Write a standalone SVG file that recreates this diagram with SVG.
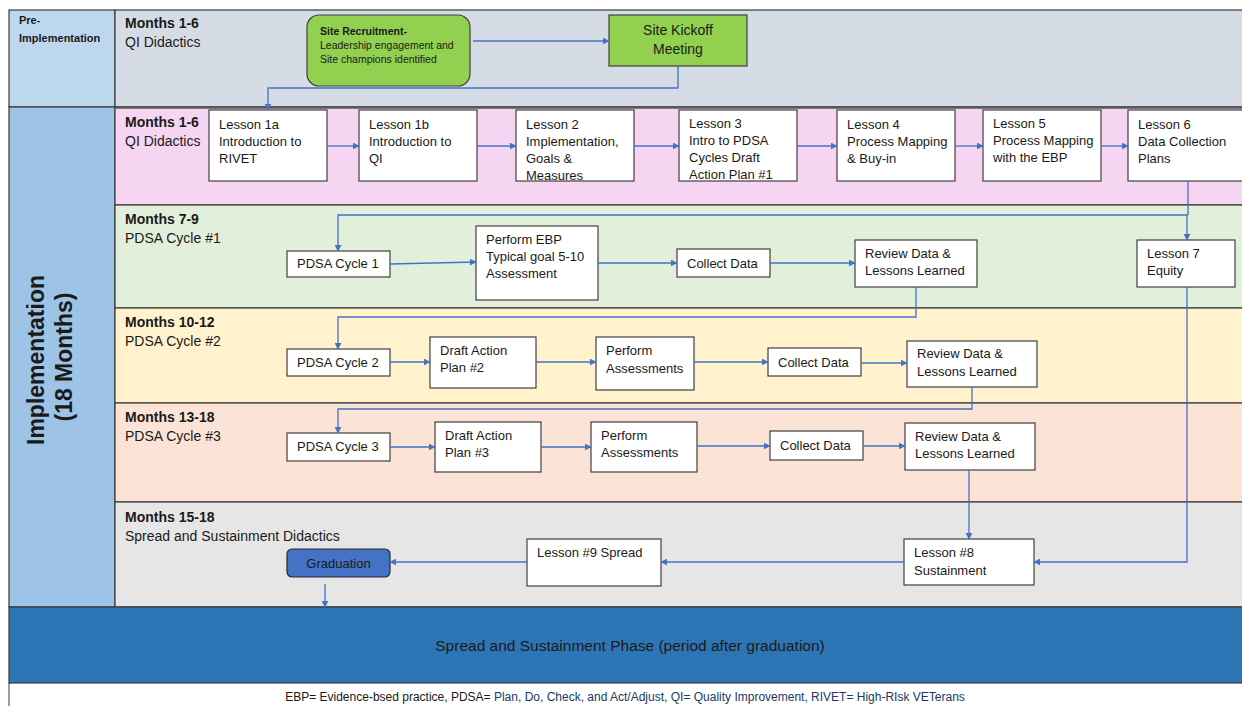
<svg xmlns="http://www.w3.org/2000/svg" width="1242" height="706" viewBox="0 0 1242 706">
<defs>
<marker id="ah" viewBox="0 0 10 10" refX="9" refY="5" markerWidth="7" markerHeight="7" markerUnits="userSpaceOnUse" orient="auto">
<path d="M0,0 L10,5 L0,10 z" fill="#4472C4"/>
</marker>
<style>
text{font-family:"Liberation Sans",Arial,sans-serif;fill:#1a1a1a;}
.t{font-size:13px;}
.lbl{font-size:14px;}
.b{font-weight:bold;}
.box{fill:#ffffff;stroke:#404040;stroke-width:1.2;}
.band{stroke:#3a3a3a;stroke-width:1.2;}
.con{fill:none;stroke:#4472C4;stroke-width:1.3;marker-end:url(#ah);}
.conn{fill:none;stroke:#4472C4;stroke-width:1.3;}
</style>
</defs>
<rect width="1242" height="706" fill="#ffffff"/>
<g id="bands">
<rect class="band" x="9" y="10" width="106" height="97" fill="#BDD7EE"/>
<rect class="band" x="115" y="10" width="1130" height="97" fill="#D6DCE5"/>
<rect class="band" x="9" y="107" width="106" height="500" fill="#9DC3E6"/>
<rect class="band" x="115" y="107" width="1130" height="98" fill="#F6D5F3"/>
<rect class="band" x="115" y="205" width="1130" height="103" fill="#E2EFDA"/>
<rect class="band" x="115" y="308" width="1130" height="95" fill="#FFF2CC"/>
<rect class="band" x="115" y="403" width="1130" height="99" fill="#FBE4D5"/>
<rect class="band" x="115" y="502" width="1130" height="105" fill="#E7E6E6"/>
<line x1="115" y1="107.5" x2="1245" y2="107.5" stroke="#595959" stroke-width="2.5"/>
<rect class="band" x="9" y="607" width="1236" height="76" fill="#2E75B6"/>
<line x1="9" y1="683" x2="9" y2="706" stroke="#3a3a3a" stroke-width="1"/>
</g>
<g id="labels">
<text class="b" font-size="11" x="19" y="24">Pre-</text>
<text class="b" font-size="11" x="19" y="42">Implementation</text>
<text class="b" font-size="23" text-anchor="middle" transform="translate(44,360) rotate(-90)">Implementation</text>
<text class="b" font-size="23" text-anchor="middle" transform="translate(72,357) rotate(-90)">(18 Months)</text>
<text class="lbl b" x="125" y="28">Months 1-6</text>
<text class="lbl" x="125" y="47">QI Didactics</text>
<text class="lbl b" x="125" y="127">Months 1-6</text>
<text class="lbl" x="125" y="146">QI Didactics</text>
<text class="lbl b" x="125" y="224">Months 7-9</text>
<text class="lbl" x="125" y="243">PDSA Cycle #1</text>
<text class="lbl b" x="125" y="327">Months 10-12</text>
<text class="lbl" x="125" y="346">PDSA Cycle #2</text>
<text class="lbl b" x="125" y="422">Months 13-18</text>
<text class="lbl" x="125" y="441">PDSA Cycle #3</text>
<text class="lbl b" x="125" y="522">Months 15-18</text>
<text class="lbl" x="125" y="541">Spread and Sustainment Didactics</text>
<text font-size="15.5" x="630" y="651" text-anchor="middle" fill="#0d1a2a">Spread and Sustainment Phase (period after graduation)</text>
<text font-size="12" x="625" y="701" text-anchor="middle">EBP= Evidence-bsed practice, PDSA= <tspan fill="#203864">Plan, Do, Check, and Act/Adjust, QI= Quality Improvement, RIVET= High-RIsk VETerans</tspan></text>
</g>
<g id="site-recruitment">
<rect x="307" y="15" width="163" height="71" rx="12" fill="#92D050" stroke="#404040" stroke-width="1.2"/>
<text class="b" font-size="10.5" x="320" y="35">Site Recruitment-</text>
<text font-size="10.5" x="320" y="49">Leadership engagement and</text>
<text font-size="10.5" x="320" y="63">Site champions identified</text>
</g>
<g id="site-kickoff">
<rect x="609" y="15" width="138" height="51" fill="#92D050" stroke="#404040" stroke-width="1.2"/>
<text class="lbl" x="678" y="35" text-anchor="middle">Site Kickoff</text>
<text class="lbl" x="678" y="54" text-anchor="middle">Meeting</text>
</g>
<g id="lesson1a"><rect class="box" x="209" y="110" width="118" height="71"/>
<text class="t" x="219" y="129">Lesson 1a</text><text class="t" x="219" y="146">Introduction to</text><text class="t" x="219" y="163">RIVET</text></g>
<g id="lesson1b"><rect class="box" x="359" y="110" width="118" height="71"/>
<text class="t" x="369" y="129">Lesson 1b</text><text class="t" x="369" y="146">Introduction to</text><text class="t" x="369" y="163">QI</text></g>
<g id="lesson2"><rect class="box" x="516" y="110" width="118" height="71"/>
<text class="t" x="526" y="129">Lesson 2</text><text class="t" x="526" y="146">Implementation,</text><text class="t" x="526" y="163">Goals &amp;</text><text class="t" x="526" y="180">Measures</text></g>
<g id="lesson3"><rect class="box" x="679" y="110" width="118" height="71"/>
<text class="t" x="689" y="128">Lesson 3</text><text class="t" x="689" y="145">Intro to PDSA</text><text class="t" x="689" y="162">Cycles Draft</text><text class="t" x="689" y="179">Action Plan #1</text></g>
<g id="lesson4"><rect class="box" x="837" y="110" width="118" height="71"/>
<text class="t" x="847" y="129">Lesson 4</text><text class="t" x="847" y="146">Process Mapping</text><text class="t" x="847" y="163">&amp; Buy-in</text></g>
<g id="lesson5"><rect class="box" x="983" y="110" width="118" height="71"/>
<text class="t" x="993" y="128">Lesson 5</text><text class="t" x="993" y="145">Process Mapping</text><text class="t" x="993" y="162">with the EBP</text></g>
<g id="lesson6"><rect class="box" x="1128" y="110" width="125" height="71"/>
<text class="t" x="1138" y="129">Lesson 6</text><text class="t" x="1138" y="146">Data Collection</text><text class="t" x="1138" y="163">Plans</text></g>
<g id="lesson7"><rect class="box" x="1137" y="240" width="98" height="47"/>
<text class="t" x="1147" y="258">Lesson 7</text><text class="t" x="1147" y="275">Equity</text></g>
<g id="pdsa1"><rect class="box" x="287" y="251" width="103" height="26"/>
<text class="t" x="297" y="268">PDSA Cycle 1</text></g>
<g id="perform-ebp"><rect class="box" x="476" y="226" width="122" height="74"/>
<text class="t" x="486" y="244">Perform EBP</text><text class="t" x="486" y="261">Typical goal 5-10</text><text class="t" x="486" y="278">Assessment</text></g>
<g id="collect1"><rect class="box" x="677" y="249" width="93" height="28"/>
<text class="t" x="687" y="268">Collect Data</text></g>
<g id="review1"><rect class="box" x="855" y="240" width="122" height="47"/>
<text class="t" x="865" y="258">Review Data &amp;</text><text class="t" x="865" y="275">Lessons Learned</text></g>
<g id="pdsa2"><rect class="box" x="287" y="349" width="103" height="27"/>
<text class="t" x="297" y="367">PDSA Cycle 2</text></g>
<g id="draft2"><rect class="box" x="430" y="337" width="106" height="51"/>
<text class="t" x="440" y="355">Draft Action</text><text class="t" x="440" y="372">Plan #2</text></g>
<g id="perform2"><rect class="box" x="596" y="337" width="98" height="53"/>
<text class="t" x="606" y="355">Perform</text><text class="t" x="606" y="373">Assessments</text></g>
<g id="collect2"><rect class="box" x="768" y="348" width="93" height="28"/>
<text class="t" x="778" y="367">Collect Data</text></g>
<g id="review2"><rect class="box" x="907" y="341" width="130" height="46"/>
<text class="t" x="917" y="358">Review Data &amp;</text><text class="t" x="917" y="376">Lessons Learned</text></g>
<g id="pdsa3"><rect class="box" x="287" y="433" width="103" height="28"/>
<text class="t" x="297" y="451">PDSA Cycle 3</text></g>
<g id="draft3"><rect class="box" x="435" y="422" width="106" height="50"/>
<text class="t" x="445" y="440">Draft Action</text><text class="t" x="445" y="457">Plan #3</text></g>
<g id="perform3"><rect class="box" x="591" y="422" width="106" height="50"/>
<text class="t" x="601" y="440">Perform</text><text class="t" x="601" y="457">Assessments</text></g>
<g id="collect3"><rect class="box" x="770" y="431" width="93" height="29"/>
<text class="t" x="780" y="450">Collect Data</text></g>
<g id="review3"><rect class="box" x="905" y="423" width="130" height="47"/>
<text class="t" x="915" y="441">Review Data &amp;</text><text class="t" x="915" y="458">Lessons Learned</text></g>
<g id="lesson8"><rect class="box" x="904" y="539" width="130" height="46"/>
<text class="t" x="914" y="557">Lesson #8</text><text class="t" x="914" y="575">Sustainment</text></g>
<g id="lesson9"><rect class="box" x="527" y="539" width="134" height="47"/>
<text class="t" x="537" y="557">Lesson #9 Spread</text></g>
<g id="graduation"><rect x="287" y="549" width="103" height="28" rx="5" fill="#4472C4" stroke="#2a2a2a" stroke-width="1.2"/>
<text class="t" x="338.5" y="568" text-anchor="middle">Graduation</text></g>
<g id="connectors">
<path class="con" d="M473,41 H609"/>
<path class="con" d="M678,66 V88 H268 V110"/>
<path class="con" d="M327,146 H359"/>
<path class="con" d="M477,146 H516"/>
<path class="con" d="M634,146 H679"/>
<path class="con" d="M797,146 H837"/>
<path class="con" d="M955,146 H983"/>
<path class="con" d="M1101,146 H1128"/>
<path class="conn" d="M1188,181 V215"/>
<path class="con" d="M1188,215 H338 V251"/>
<path class="con" d="M1187,215 V240"/>
<path class="con" d="M390,264 L476,262"/>
<path class="con" d="M598,263 H677"/>
<path class="con" d="M770,263 H855"/>
<path class="con" d="M916,287 V317 H338 V349"/>
<path class="con" d="M390,362 H430"/>
<path class="con" d="M536,362 H596"/>
<path class="con" d="M694,362 H768"/>
<path class="con" d="M861,363 H907"/>
<path class="con" d="M972,387 V409 H338 V433"/>
<path class="con" d="M390,447 H435"/>
<path class="con" d="M541,447 H591"/>
<path class="con" d="M697,446 H770"/>
<path class="con" d="M863,446 H905"/>
<path class="con" d="M969,470 V539"/>
<path class="con" d="M1187,287 V562 H1034"/>
<path class="con" d="M904,562 H661"/>
<path class="con" d="M527,562 H390"/>
<path class="con" d="M325,584 V607"/>
</g>
</svg>
